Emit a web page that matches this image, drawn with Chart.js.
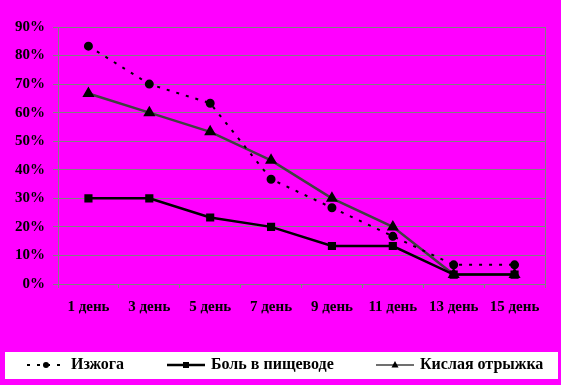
<!DOCTYPE html>
<html>
<head>
<meta charset="utf-8">
<script src="https://cdn.jsdelivr.net/npm/chart.js@4"></script>
<style>
  html, body { margin: 0; padding: 0; background: #ff00ff; }
  #wrap { width: 561px; height: 385px; }
</style>
</head>
<body>
<div id="wrap"><canvas id="chart" width="561" height="385"></canvas></div>
<script>
const days = ['1 день', '3 день', '5 день', '7 день', '9 день', '11 день', '13 день', '15 день'];
const heartburn = [83.3, 70, 63.3, 36.7, 26.7, 16.7, 6.7, 6.7];
const esophagusPain = [30, 30, 23.3, 20, 13.3, 13.3, 3.3, 3.3];
const sourBelching = [66.7, 60, 53.3, 43.3, 30, 20, 3.3, 3.3];

const seriesNames = ['Изжога', 'Боль в пищеводе', 'Кислая отрыжка'];

const FONT = 'bold 16px "Liberation Serif", "Times New Roman", serif';

// plot border + custom legend in a white box
const excelBits = {
    id: 'excelBits',
    beforeDatasetsDraw(chart) {
        const ctx = chart.ctx, a = chart.chartArea;
        ctx.save();
        ctx.strokeStyle = '#808080';
        ctx.lineWidth = 1;
        ctx.beginPath();
        ctx.moveTo(Math.round(a.right) + 0.5, a.top);
        ctx.lineTo(Math.round(a.right) + 0.5, a.bottom);
        ctx.stroke();
        ctx.restore();
    },
    afterDraw(chart) {
        const ctx = chart.ctx;
        ctx.save();
        ctx.fillStyle = '#ffffff';
        ctx.fillRect(5, 352, 553, 27);
        const y = 365;
        const starts = [27, 167, 376];
        chart.data.datasets.forEach((ds, i) => {
            const x0 = starts[i], x1 = x0 + 38;
            ctx.strokeStyle = ds.borderColor;
            ctx.lineWidth = i === 2 ? 1.5 : ds.borderWidth;
            ctx.setLineDash(ds.borderDash || []);
            ctx.beginPath();
            ctx.moveTo(x0, y);
            ctx.lineTo(x1, y);
            ctx.stroke();
            ctx.setLineDash([]);
            ctx.fillStyle = '#000';
            const cx = (x0 + x1) / 2;
            ctx.beginPath();
            if (ds.pointStyle === 'circle') {
                ctx.arc(cx, y, 3, 0, Math.PI * 2);
            } else if (ds.pointStyle === 'rect') {
                ctx.rect(cx - 3, y - 3, 6, 6);
            } else {
                ctx.moveTo(cx, y - 4);
                ctx.lineTo(cx + 3.5, y + 2.5);
                ctx.lineTo(cx - 3.5, y + 2.5);
                ctx.closePath();
            }
            ctx.fill();
            ctx.fillStyle = '#000';
            ctx.font = FONT;
            ctx.textBaseline = 'middle';
            ctx.fillText(ds.label, x1 + 6, y);
        });
        ctx.restore();
    }
};

const tickFont = { family: '"Liberation Serif", "Times New Roman", serif', size: 15, weight: 'bold' };

new Chart(document.getElementById('chart').getContext('2d'), {
    type: 'line',
    data: {
        labels: days,
        datasets: [
            {
                label: seriesNames[0],
                data: heartburn,
                borderColor: '#000000',
                borderWidth: 2,
                borderDash: [3, 7],
                pointStyle: 'circle',
                pointRadius: 3.5,
                pointBackgroundColor: '#000',
                pointBorderColor: '#000',
                tension: 0
            },
            {
                label: seriesNames[1],
                data: esophagusPain,
                borderColor: '#000000',
                borderWidth: 2.5,
                pointStyle: 'rect',
                pointRadius: 4,
                pointBackgroundColor: '#000',
                pointBorderColor: '#000',
                tension: 0
            },
            {
                label: seriesNames[2],
                data: sourBelching,
                borderColor: '#404040',
                borderWidth: 2.5,
                pointStyle: 'triangle',
                pointRadius: 4.5,
                pointBackgroundColor: '#000',
                pointBorderColor: '#000',
                tension: 0
            }
        ]
    },
    options: {
        responsive: false,
        animation: false,
        layout: { padding: { left: 0, right: 16, top: 27, bottom: 71 } },
        plugins: {
            legend: { display: false },
            tooltip: { enabled: false }
        },
        scales: {
            x: {
                offset: true,
                grid: { offset: true, drawOnChartArea: false, drawTicks: true, tickLength: 4, color: '#808080' },
                border: { color: '#808080' },
                ticks: {
                    color: '#000',
                    font: tickFont,
                    padding: 10,
                    maxRotation: 0,
                    autoSkip: false
                },
                afterFit: s => { s.height = 30; }
            },
            y: {
                min: 0,
                max: 90,
                grid: { color: '#808080', drawTicks: true, tickLength: 5 },
                border: { color: '#808080' },
                ticks: {
                    stepSize: 10,
                    color: '#000',
                    padding: 8,
                    font: tickFont,
                    callback: v => v + '%'
                },
                afterFit: s => { s.width = 58; }
            }
        }
    },
    plugins: [excelBits]
});
</script>
</body>
</html>
